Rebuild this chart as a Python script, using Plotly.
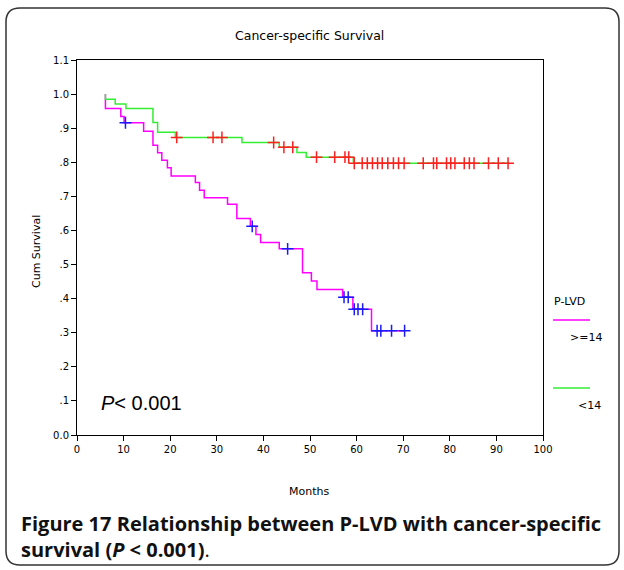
import numpy as np
import plotly.graph_objects as go

# ---------------- data ----------------
# P-LVD >= 14 (magenta curve, blue censor marks)
hi_times = [6.1, 6.1, 9.4, 10.1, 14.3, 16.3, 17.3, 18.2, 19.4, 20.2, 25.4, 26.3, 27.3,
            32.3, 34.3, 37.2, 38.4, 39.4, 43.4, 48.4, 50.3, 51.5, 57.0, 59.2, 63.2]
hi_surv = [1.0, 0.958, 0.934, 0.916, 0.891, 0.850, 0.828, 0.806, 0.784, 0.760, 0.741, 0.718, 0.696,
           0.677, 0.635, 0.612, 0.588, 0.565, 0.546, 0.476, 0.452, 0.427, 0.404, 0.369, 0.306]
hi_censor = [10.4, 37.6, 45.2, 57.3, 58.2, 59.5, 60.3, 61.3, 64.4, 65.2, 67.5, 70.3]

# P-LVD < 14 (green curve, red censor marks)
lo_times = [6.1, 6.1, 8.2, 10.5, 16.3, 17.3, 21.1, 35.4, 43.4, 47.2, 49.2, 59.3]
lo_surv = [1.0, 0.985, 0.971, 0.958, 0.917, 0.888, 0.873, 0.858, 0.844, 0.829, 0.815, 0.797]
lo_censor = [21.4, 29.2, 31.1, 42.2, 44.4, 46.3, 51.4, 55.3, 57.5, 58.3,
             59.5, 61.2, 62.3, 63.4, 64.5, 65.5, 66.7, 67.9, 69.0, 70.2,
             74.3, 76.5, 77.2, 79.3, 80.2, 81.1, 83.1, 84.2, 85.2, 88.3, 90.4, 92.5]

x_ticks = [0, 10, 20, 30, 40, 50, 60, 70, 80, 90, 100]
y_ticks = [0.0, 0.1, 0.2, 0.3, 0.4, 0.5, 0.6, 0.7, 0.8, 0.9, 1.0, 1.1]
y_tick_labels = ["0.0", ".1", ".2", ".3", ".4", ".5", ".6", ".7", ".8", ".9", "1.0", "1.1"]

group_names = [">=14", "<14"]
legend_title = "P-LVD"

# ---------------- layout geometry ----------------
W, H = 624, 570
L, R, T, B = 77, 543, 60, 435
PW, PH = R - L, B - T


def px2x(px):
    return (px - L) / PW


def py2y(py):
    return (B - py) / PH


def step_value(times, surv, t):
    idx = np.searchsorted(np.array(times), t, side="right") - 1
    return surv[max(idx, 0)]


MAGENTA = "#ff00ff"
GREEN = "#33ee33"
FONT = "DejaVu Sans"

fig = go.Figure()


def add_line(times, surv, censor, line_color):
    end_t = max(censor[-1], times[-1])
    xs = list(times) + [end_t]
    ys = list(surv) + [surv[-1]]
    fig.add_trace(go.Scatter(x=xs, y=ys, mode="lines", line=dict(color=line_color, width=1.5, shape="hv"),
                             showlegend=False, hoverinfo="skip"))


def add_censor(times, surv, censor, mark_color):
    cy = [step_value(times, surv, t) for t in censor]
    fig.add_trace(go.Scatter(x=censor, y=cy, mode="markers",
                             marker=dict(symbol="cross-thin", size=8.5, line=dict(color=mark_color, width=1.5)),
                             showlegend=False, hoverinfo="skip"))


add_line(hi_times, hi_surv, hi_censor, MAGENTA)
add_line(lo_times, lo_surv, lo_censor, GREEN)
add_censor(lo_times, lo_surv, lo_censor, "#ff2020")
add_censor(hi_times, hi_surv, hi_censor, "#1a1aff")

fig.update_layout(
    width=W, height=H,
    margin=dict(l=L, r=W - R, t=T, b=H - B, pad=0),
    paper_bgcolor="white", plot_bgcolor="white",
    font=dict(family=FONT, size=10, color="black"),
    showlegend=False,
)

fig.update_xaxes(range=[0, 100], tickvals=x_ticks, ticks="outside", ticklen=5, tickwidth=1,
                 tickcolor="black", showline=True, linecolor="black", linewidth=1, mirror=True,
                 showgrid=False, zeroline=False, tickfont=dict(family=FONT, size=10))
fig.update_yaxes(range=[0, 1.1], tickvals=y_ticks, ticktext=y_tick_labels, ticks="outside", ticklen=5,
                 tickwidth=1, tickcolor="black", showline=True, linecolor="black", linewidth=1, mirror=True,
                 showgrid=False, zeroline=False, tickfont=dict(family=FONT, size=10))

ann = []
# title
ann.append(dict(x=px2x(309), y=py2y(35), xref="paper", yref="paper", text="Cancer-specific Survival",
                showarrow=False, font=dict(family=FONT, size=12.5), xanchor="center", yanchor="middle"))
# axis titles
ann.append(dict(x=px2x(309), y=py2y(491), xref="paper", yref="paper", text="Months",
                showarrow=False, font=dict(family=FONT, size=11), xanchor="center", yanchor="middle"))
ann.append(dict(x=px2x(36), y=py2y(252), xref="paper", yref="paper", text="Cum Survival", textangle=-90,
                showarrow=False, font=dict(family=FONT, size=11), xanchor="center", yanchor="middle"))
# p-value
ann.append(dict(x=px2x(99), y=py2y(403), xref="paper", yref="paper", text="<i>P</i>< 0.001",
                showarrow=False, font=dict(family="Liberation Sans", size=20), xanchor="left", yanchor="middle"))
# legend
ann.append(dict(x=px2x(552), y=py2y(301), xref="paper", yref="paper", text=legend_title,
                showarrow=False, font=dict(family=FONT, size=11), xanchor="left", yanchor="middle"))
ann.append(dict(x=px2x(604), y=py2y(337), xref="paper", yref="paper", text=group_names[0],
                showarrow=False, font=dict(family=FONT, size=11), xanchor="right", yanchor="middle"))
ann.append(dict(x=px2x(603), y=py2y(405), xref="paper", yref="paper", text=group_names[1],
                showarrow=False, font=dict(family=FONT, size=11), xanchor="right", yanchor="middle"))
# caption
ann.append(dict(x=px2x(19), y=py2y(536), xref="paper", yref="paper",
                text="<b>Figure 17 Relationship between P-LVD with cancer-specific<br>"
                     "survival (<i>P</i> &lt; 0.001)</b>.",
                showarrow=False, align="left", font=dict(family="Open Sans", size=20, color="#111111"),
                xanchor="left", yanchor="middle"))
fig.update_layout(annotations=ann)

shapes = []
# legend swatches
shapes.append(dict(type="line", xref="paper", yref="paper", x0=px2x(553), x1=px2x(590),
                   y0=py2y(320), y1=py2y(320), line=dict(color=MAGENTA, width=1.5)))
shapes.append(dict(type="line", xref="paper", yref="paper", x0=px2x(553), x1=px2x(590),
                   y0=py2y(388), y1=py2y(388), line=dict(color=GREEN, width=1.5)))
# rounded outer frame
x0, x1 = px2x(6), px2x(619)
yt, yb = py2y(8), py2y(565)
rx, ry = 14 / PW, 14 / PH
path = (f"M {x0+rx},{yt} L {x1-rx},{yt} Q {x1},{yt} {x1},{yt-ry} L {x1},{yb+ry} "
        f"Q {x1},{yb} {x1-rx},{yb} L {x0+rx},{yb} Q {x0},{yb} {x0},{yb+ry} "
        f"L {x0},{yt-ry} Q {x0},{yt} {x0+rx},{yt} Z")
shapes.append(dict(type="path", xref="paper", yref="paper", path=path,
                   line=dict(color="#333333", width=1.5)))
fig.update_layout(shapes=shapes)

fig.write_html("out.html", config={"displayModeBar": False},
               post_script="document.body.style.margin='0';document.body.style.padding='0';"
                           "document.body.style.overflow='hidden';")
